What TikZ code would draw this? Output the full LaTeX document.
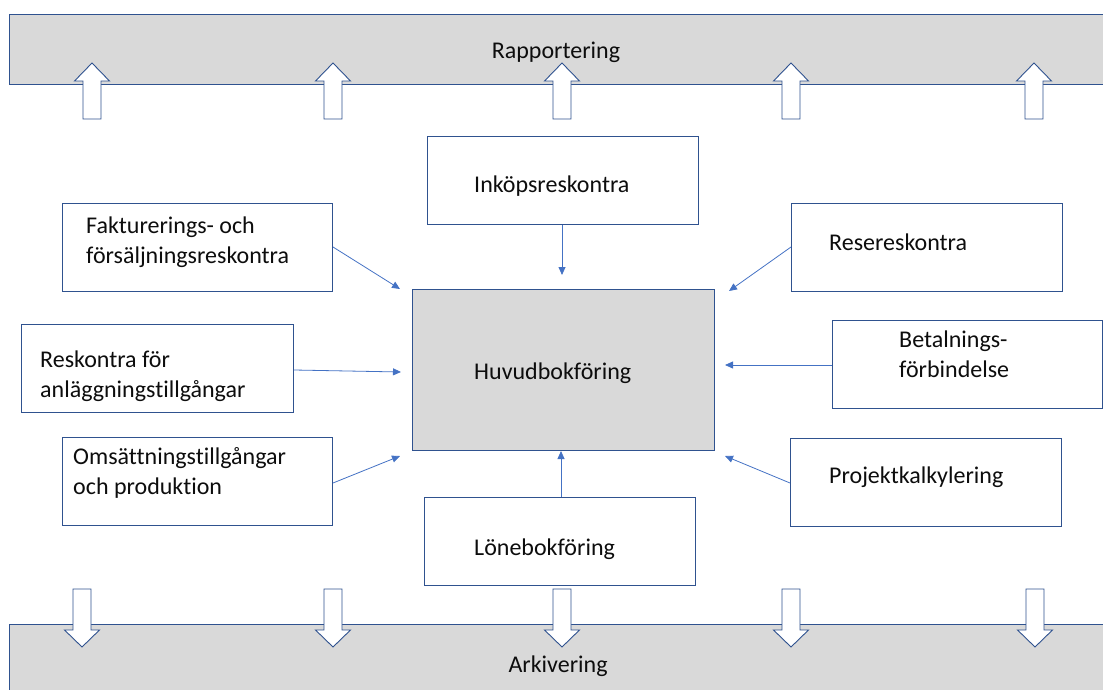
\documentclass[tikz,border=0pt]{standalone}
\usepackage{fontspec}
\setmainfont{Carlito}[Ligatures={NoCommon}]
\usetikzlibrary{arrows.meta}
\definecolor{edge}{RGB}{47,82,143}
\definecolor{conn}{RGB}{68,114,196}
\definecolor{barfill}{RGB}{217,217,217}
\definecolor{txt}{RGB}{13,13,13}
\begin{document}
\begin{tikzpicture}[x=1pt,y=-1pt,
  box/.style={draw=edge,line width=1pt,fill=white,minimum width=#1,minimum height=88,inner sep=0pt,anchor=north west},
  box/.default=270,
  lbl/.style={anchor=base west,inner sep=0pt,text=txt,font=\fontsize{24}{29.5}\selectfont,align=left},
  conn/.style={draw=conn,line width=0.8pt,-{Triangle[length=8pt,width=7pt]}},
  blk/.style={draw=edge,line width=0.9pt,fill=white,line join=miter},
  uparrow/.pic={\path[blk] (-9,0) -- (-9,-38) -- (-17.5,-38) -- (0,-56) -- (17.5,-38) -- (9,-38) -- (9,0) -- cycle;},
  downarrow/.pic={\path[blk] (-9,0) -- (-9,41) -- (-17.5,41) -- (0,58) -- (17.5,41) -- (9,41) -- (9,0) -- cycle;}
]
\useasboundingbox (0,0) rectangle (1103,690);
% bars
\fill[barfill] (9,15) rectangle (1110,85);
\draw[edge,line width=1pt] (1110,15) -- (9,15) -- (9,85) -- (1110,85);
\fill[barfill] (9,624) rectangle (1110,700);
\draw[edge,line width=1pt] (1110,624) -- (9,624) -- (9,700);
\node[lbl,anchor=base] (rap) at (556,59) {Rapportering};
\node[lbl,anchor=base] (ark) at (558,672) {Arkivering};
% block arrows
\foreach \cx in {92,333,562,791,1034} { \pic at (\cx,119) {uparrow}; }
\foreach \cx in {82,333,562,791,1035} { \pic at (\cx,589) {downarrow}; }
% central box
\node[draw=edge,line width=1pt,fill=barfill,minimum width=302,minimum height=161,inner sep=0pt,anchor=north west] (huv) at (412,289) {};
\node[lbl] (huvt) at (474,379) {Huvudbokföring};
% boxes
\node[box=271] (ink) at (427,136) {};
\node[lbl] (inkt) at (474,192) {Inköpsreskontra};
\node[box=271] (lon) at (424,497) {};
\node[lbl] (lont) at (474,555) {Lönebokföring};
\node[box] (fak) at (62,203) {};
\node[lbl] (fakt) at (86,263) {Fakturerings- och\\försäljningsreskontra};
\node[box=272] (res) at (21,324) {};
\node[lbl] (rest) at (40,397) {Reskontra för\\anläggningstillgångar};
\node[box] (oms) at (62,437) {};
\node[lbl] (omst) at (73,494) {Omsättningstillgångar\\och produktion};
\node[box=271] (rse) at (791,203) {};
\node[lbl] (rset) at (829,250) {Resereskontra};
\node[box] (bet) at (832,320) {};
\node[lbl] (bett) at (899,377) {Betalnings-\\förbindelse};
\node[box=271] (pro) at (790,438) {};
\node[lbl] (prot) at (829,483) {Projektkalkylering};
% connector end points
\coordinate (e1) at (562,275);
\coordinate (e2) at (561,451);
\coordinate (e3) at (400,289);
\coordinate (e4) at (401,372);
\coordinate (e5) at (400,456);
\coordinate (e6) at (729,291);
\coordinate (e7) at (725,365);
\coordinate (e8) at (725,456);
% connectors
\draw[conn] (ink.south -| e1) -- (e1);
\draw[conn] (lon.north -| e2) -- (e2);
\draw[conn] (fak.east |- 0,247) -- (e3);
\draw[conn] (res.east |- 0,370) -- (e4);
\draw[conn] (oms.east |- 0,483) -- (e5);
\draw[conn] (rse.west |- 0,247) -- (e6);
\draw[conn] (bet.west |- 0,365) -- (e7);
\draw[conn] (pro.west |- 0,483) -- (e8);
\end{tikzpicture}
\end{document}
